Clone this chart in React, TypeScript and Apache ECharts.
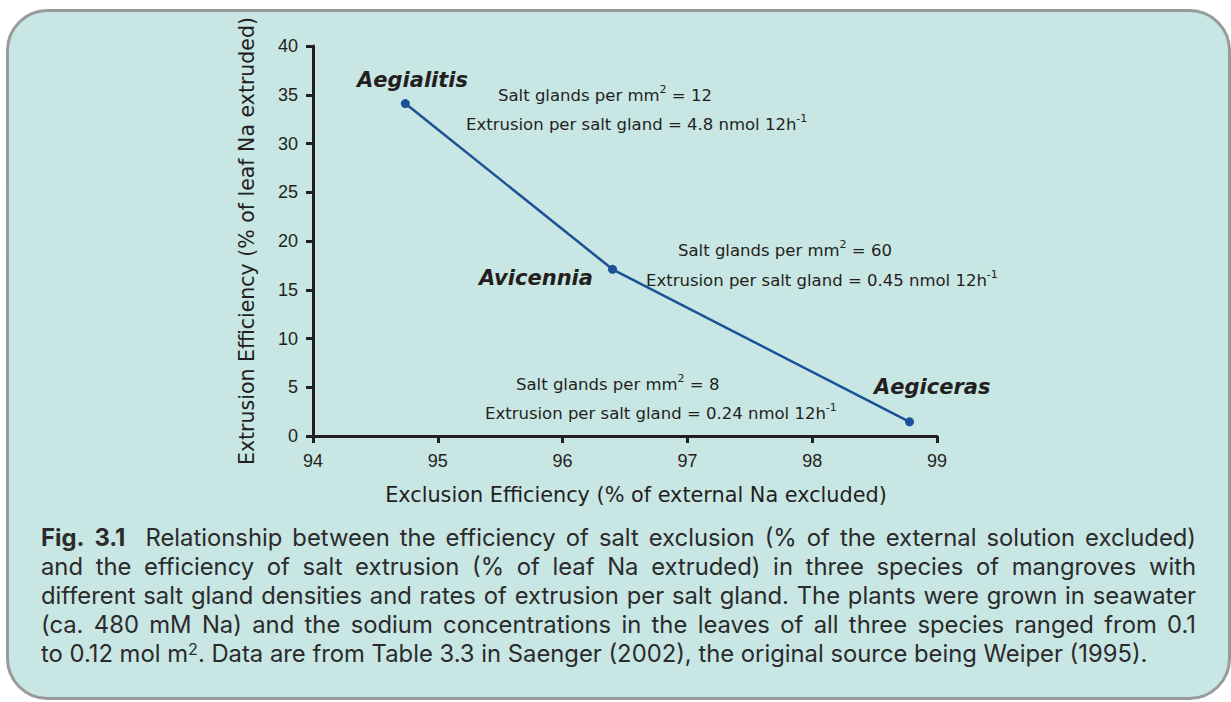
import React, { useEffect, useRef } from "react";
import * as echarts from "echarts";

const W = 1231;
const H = 702;

// ---- data ----
const species = ["Aegialitis", "Avicennia", "Aegiceras"];
const exclusion = [94.74, 96.4, 98.78];
const extrusion = [34.1, 17.1, 1.45];
const glandDensity = ["12", "60", "8"];
const extrusionPerGland = ["4.8", "0.45", "0.24"];
const xTickValues = [94, 95, 96, 97, 98, 99];
const yTickValues = [0, 5, 10, 15, 20, 25, 30, 35, 40];

const xTitle = "Exclusion Efficiency (% of external Na excluded)";
const yTitle = "Extrusion Efficiency (% of leaf Na extruded)";

const captionLines = [
  "Fig. 3.1  Relationship between the efficiency of salt exclusion (% of the external solution excluded)",
  "and the efficiency of salt extrusion (% of leaf Na extruded) in three species of mangroves with",
  "different salt gland densities and rates of extrusion per salt gland. The plants were grown in seawater",
  "(ca. 480 mM Na) and the sodium concentrations in the leaves of all three species ranged from 0.1",
];
const captionLastPlain =
  "to 0.12 mol m2. Data are from Table 3.3 in Saenger (2002), the original source being Weiper (1995).";
const captionLast =
  "to 0.12 mol m{sup|2}. Data are from Table 3.3 in Saenger (2002), the original source being Weiper (1995).";

// ---- layout/style ----
const TEXT = "#231f20";
const LINE = "#1b5196";
const CAP_FONT = "Inter";
const CAP_LEFT = 41;
const CAP_RIGHT = 1196;
const CAP_LAST_RIGHT = 1192;
const CAP_Y0 = 537;
const CAP_DY = 29;
const ANN_FONT = "'DejaVu Sans'";
const ANN_SIZE = 16.5;

function buildCaption() {
  const canvas = document.createElement("canvas");
  const ctx = canvas.getContext("2d")!;
  const measure = (t: string, bold: boolean, size: number) => {
    ctx.font = `${bold ? "bold " : ""}${size}px ${CAP_FONT}`;
    return ctx.measureText(t).width;
  };
  const base = measure(captionLastPlain, false, 20);
  const size = Math.min(23.8, Math.max(19, (20 * (CAP_LAST_RIGHT - CAP_LEFT)) / base));
  const els: any[] = [];
  captionLines.forEach((line, li) => {
    const parts = line.split(" ");
    const tokens: { t: string; b: boolean; gapBefore: number }[] = [];
    let pendingGap = 0;
    parts.forEach((p, i) => {
      if (p === "") {
        pendingGap += 1;
        return;
      }
      const bold = li === 0 && i < 2;
      tokens.push({ t: p, b: bold, gapBefore: tokens.length === 0 ? 0 : 1 + pendingGap });
      pendingGap = 0;
    });
    const widths = tokens.map((tk) => measure(tk.t, tk.b, size));
    const sum = widths.reduce((a, b) => a + b, 0);
    const gapUnits = tokens.reduce((a, tk) => a + tk.gapBefore, 0);
    const gap = (CAP_RIGHT - CAP_LEFT - sum) / gapUnits;
    let x = CAP_LEFT;
    tokens.forEach((tk, i) => {
      x += tk.gapBefore * gap;
      els.push({
        type: "text",
        x,
        y: CAP_Y0 + li * CAP_DY,
        silent: true,
        style: {
          text: tk.t,
          fontFamily: CAP_FONT,
          fontSize: size,
          fontWeight: tk.b ? "bold" : "normal",
          fill: "#2b2b2b",
          align: "left",
          verticalAlign: "middle",
        },
      });
      x += widths[i];
    });
  });
  els.push({
    type: "text",
    x: CAP_LEFT,
    y: CAP_Y0 + captionLines.length * CAP_DY,
    silent: true,
    style: {
      text: captionLast,
      fontFamily: CAP_FONT,
      fontSize: size,
      fill: "#2b2b2b",
      align: "left",
      verticalAlign: "middle",
      rich: {
        sup: {
          fontFamily: CAP_FONT,
          fontSize: size * 0.68,
          fill: "#2b2b2b",
          verticalAlign: "top",
          lineHeight: 14,
        },
      },
    },
  });
  return els;
}

function annotation(x: number, y: number, text: string) {
  return {
    type: "text",
    x,
    y,
    silent: true,
    style: {
      text,
      fontFamily: ANN_FONT,
      fontSize: ANN_SIZE,
      fill: TEXT,
      align: "left",
      verticalAlign: "middle",
      lineHeight: 20,
      rich: {
        n: { fontFamily: ANN_FONT, fontSize: ANN_SIZE, fill: TEXT, lineHeight: 20, verticalAlign: "bottom" },
        sup: { fontFamily: ANN_FONT, fontSize: 11, fill: TEXT, lineHeight: 16, verticalAlign: "top" },
      },
    },
  };
}

function speciesLabel(x: number, y: number, text: string) {
  return {
    type: "text",
    x,
    y,
    silent: true,
    style: {
      text,
      fontFamily: ANN_FONT,
      fontSize: 21,
      fontWeight: "bold",
      fontStyle: "italic",
      fill: TEXT,
      align: "left",
      verticalAlign: "middle",
    },
  };
}

export default function App() {
  const ref = useRef<HTMLDivElement>(null);
  useEffect(() => {
    const chart = echarts.init(ref.current!, null, { renderer: "svg", width: W, height: H });
    const points = exclusion.map((x, i) => [x, extrusion[i]]);
    const densityText = (i: number) => `{n|Salt glands per mm}{sup|2}{n| = ${glandDensity[i]}}`;
    const rateText = (i: number) =>
      `{n|Extrusion per salt gland = ${extrusionPerGland[i]} nmol 12h}{sup|-1}`;

    const axisCommon = {
      axisLine: { show: true, lineStyle: { color: TEXT, width: 3 } },
      axisTick: { show: true, length: 7, lineStyle: { color: TEXT, width: 3 } },
      splitLine: { show: false },
    };

    const option: any = {
      animation: false,
      backgroundColor: "#ffffff",
      grid: { left: 313, right: W - 937, top: 46, bottom: H - 436, containLabel: false },
      xAxis: {
        type: "value",
        min: xTickValues[0],
        max: xTickValues[xTickValues.length - 1],
        interval: 1,
        ...axisCommon,
        axisLabel: {
          margin: 16,
          color: TEXT,
          fontFamily: "'Liberation Sans', Arial",
          fontSize: 18,
        },
        name: xTitle,
        nameLocation: "middle",
        nameGap: 48,
        nameTextStyle: {
          color: TEXT,
          fontFamily: ANN_FONT,
          fontSize: 20.8,
          padding: [0, 0, 0, 22],
        },
      },
      yAxis: {
        type: "value",
        min: yTickValues[0],
        max: yTickValues[yTickValues.length - 1],
        interval: 5,
        ...axisCommon,
        axisLabel: {
          margin: 15,
          color: TEXT,
          fontFamily: "'Liberation Sans', Arial",
          fontSize: 18,
        },
        name: yTitle,
        nameLocation: "middle",
        nameGap: 56,
        nameTextStyle: { color: TEXT, fontFamily: ANN_FONT, fontSize: 20.5 },
      },
      graphic: [
        {
          type: "rect",
          z: -10,
          silent: true,
          shape: { x: 7.5, y: 10.5, width: 1222, height: 688, r: 40 },
          style: { fill: "#c8e6e3", stroke: "#999a9c", lineWidth: 3 },
        },
        speciesLabel(357, 80, species[0]),
        annotation(498, 94, densityText(0)),
        annotation(466, 123, rateText(0)),
        speciesLabel(479, 278, species[1]),
        annotation(678, 249, densityText(1)),
        annotation(646, 279, rateText(1)),
        speciesLabel(874, 387, species[2]),
        annotation(516, 383, densityText(2)),
        annotation(485, 412, rateText(2)),
        ...buildCaption(),
      ],
      series: [
        {
          type: "line",
          data: points,
          symbol: "circle",
          symbolSize: 9,
          itemStyle: { color: LINE },
          lineStyle: { color: LINE, width: 2.5 },
          z: 5,
        },
      ],
    };
    chart.setOption(option);
    return () => chart.dispose();
  }, []);
  return (
    <div
      ref={ref}
      style={{ position: "absolute", left: 0, top: 0, width: W, height: H }}
    />
  );
}
